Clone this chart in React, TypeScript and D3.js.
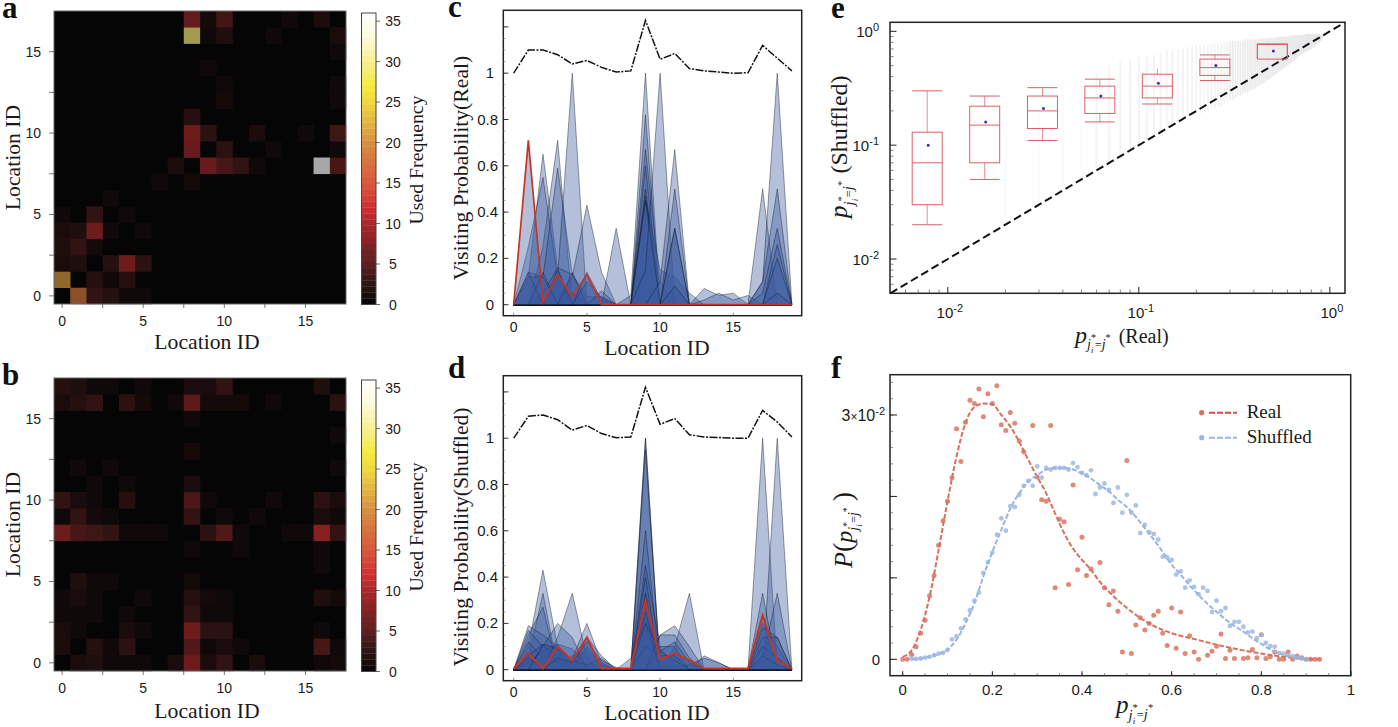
import React from "react";
import * as d3 from "d3";

const SANS = "'Liberation Sans', Arial, sans-serif";
const SERIF = "'Liberation Serif', 'Times New Roman', serif";

// panel a, rows from location 0 upward
const heatReal = [
  [0, 18, 4, 3, 1, 1, 0, 0, 0, 0, 0, 0, 0, 0, 0, 0, 0, 0],
  [21, 0, 3, 1, 3, 0, 0, 0, 0, 0, 0, 0, 0, 0, 0, 0, 0, 0],
  [2, 2.5, 0, 3, 10, 3.5, 0, 0, 0, 0, 0, 0, 0, 0, 0, 0, 0, 0],
  [2.5, 4, 1.5, 0, 0, 0, 0, 0, 0, 0, 0, 0, 0, 0, 0, 0, 0, 0],
  [2, 2.5, 10, 1, 0, 1, 0, 0, 0, 0, 0, 0, 0, 0, 0, 0, 0, 0],
  [1, 0, 4, 0, 1, 0, 0, 0, 0, 0, 0, 0, 0, 0, 0, 0, 0, 0],
  [0, 0, 0, 1, 0, 0, 0, 0, 0, 0, 0, 0, 0, 0, 0, 0, 0, 0],
  [0, 0, 0, 0, 0, 0, 1, 0, 1.5, 0, 0, 0, 0, 0, 0, 0, 0, 0],
  [0, 0, 0, 0, 0, 0, 0, 2, 0, 9.5, 6, 4, 1, 0, 0, 0, 36, 6],
  [0, 0, 0, 0, 0, 0, 0, 0, 9.5, 0, 3.5, 0, 0, 1, 0, 0, 0, 1],
  [0, 0, 0, 0, 0, 0, 0, 0, 10, 3.5, 0, 0, 2, 0, 0, 1, 0, 5],
  [0, 0, 0, 0, 0, 0, 0, 0, 3, 0, 0, 0, 0, 0, 0, 0, 0, 0],
  [0, 0, 0, 0, 0, 0, 0, 0, 0, 0, 1.5, 0, 0, 0, 0, 0, 0, 1],
  [0, 0, 0, 0, 0, 0, 0, 0, 0, 0, 1, 0, 0, 0, 0, 0, 0, 1],
  [0, 0, 0, 0, 0, 0, 0, 0, 0, 1, 0, 0, 0, 0, 0, 0, 0, 0],
  [0, 0, 0, 0, 0, 0, 0, 0, 0, 0, 0, 0, 0, 0, 0, 0, 0, 1],
  [0, 0, 0, 0, 0, 0, 0, 0, 29, 1, 2.5, 0, 0, 1, 0, 0, 0, 2],
  [0, 0, 0, 0, 0, 0, 0, 0, 9, 1.5, 5.5, 0, 0, 0, 1, 0, 2, 0],
];

// panel b
const heatShuffled = [
  [0, 2, 2.5, 1, 1, 1, 0, 2, 10, 2, 4, 0, 2, 0, 0, 0, 1, 1.5],
  [2, 0, 3, 1, 3.5, 0, 0, 0, 7, 1, 2, 1, 0, 0, 0, 0, 6, 1],
  [2, 1, 0, 0, 2, 1, 0, 0, 10, 3.5, 3.5, 0, 0, 0, 0, 0, 1, 0],
  [1, 1, 1, 0, 1, 0, 0, 0, 4, 1, 1, 0, 0, 0, 0, 0, 0, 0],
  [1, 2, 1, 0, 0, 1, 0, 0, 3, 1.5, 1, 0, 0, 0, 0, 0, 2.5, 1.5],
  [0, 2.5, 1, 1, 0, 0, 0, 0, 1.5, 0, 0, 0, 0, 0, 0, 0, 0, 0],
  [0, 0, 0, 0, 0, 0, 0, 0, 0, 0, 0, 0, 0, 0, 0, 0, 1, 0],
  [0, 0, 0, 0, 0, 0, 0, 0, 1, 0, 0, 1, 0, 0, 0, 0, 1, 0],
  [10, 6, 5, 4, 1, 1, 1, 0, 0, 3.5, 7, 1, 0, 0, 1, 1, 12, 4],
  [1, 4, 1.5, 1, 0, 0, 0, 0, 4, 0, 1, 0, 1, 0, 0, 0, 2, 1],
  [4, 2, 1, 0, 3, 0, 0, 0, 6.5, 1, 0, 0, 0, 1, 0, 0, 3.5, 2],
  [0, 0, 1, 0, 1, 0, 0, 0, 2, 0, 0, 0, 0, 0, 0, 0, 0, 0],
  [0, 1, 0, 1, 0, 0, 0, 0, 0, 0, 0, 0, 0, 0, 0, 0, 0, 1],
  [0, 0, 0, 0, 0, 0, 0, 0, 1.5, 0, 0, 0, 0, 0, 0, 0, 0, 0],
  [0, 0, 0, 0, 0, 0, 0, 0, 0, 0, 0, 0, 0, 0, 0, 0, 0, 1],
  [0, 0, 0, 0, 0, 0, 0, 0, 1, 0, 0, 0, 0, 0, 0, 0, 0, 0],
  [2, 3, 4, 0, 3.5, 1.5, 0, 1, 8, 1.5, 1.5, 1.5, 0, 1, 0, 0, 0, 3.5],
  [3, 2.5, 1, 1, 0, 1, 0, 0, 2, 2, 4, 0, 0, 0, 0, 0, 2.5, 0],
];

const colorStops = [0, 2.5, 5, 10, 12, 15, 20, 25, 27, 30, 33, 36];
const colorValues = ["#070606", "#2e1414", "#5c2020", "#a8282a", "#d03030", "#d8583c", "#d69040", "#efd840", "#f5ea40", "#f6ee90", "#fdfbd8", "#ffffff"];

// panel c, one row per location distribution, x = 0..19
const visitReal = [
  [0, .12, .65, .16, 0, 0, 0, 0, 0, 0, 0, 0, 0, 0, 0, 0, 0, 0, 0, 0],
  [0, 0, .25, .71, 0, 0, 0, 0, 0, 0, 0, 0, 0, 0, 0, 0, 0, 0, 0, 0],
  [0, .25, .55, .12, 0, 0, 0, 0, 0, 0, 0, 0, 0, 0, 0, 0, 0, 0, 0, 0],
  [0, .14, .12, .59, .13, 0, 0, 0, 0, 0, 0, 0, 0, 0, 0, 0, 0, 0, 0, 0],
  [0, 0, 0, .12, 1, 0, 0, 0, 0, 0, 0, 0, 0, 0, 0, 0, 0, 0, 0, 0],
  [0, 0, 0, 0, .12, .43, .14, 0, 0, 0, 0, 0, 0, 0, 0, 0, 0, 0, 0, 0],
  [0, 0, 0, 0, 0, 0, 0, .33, 0, 0, 0, 0, 0, 0, 0, 0, 0, 0, 0, 0],
  [0, 0, .05, .16, .13, .035, .035, 0, 0, 0, 0, 0, 0, 0, 0, 0, 0, 0, 0, 0],
  [0, .12, .12, 0, 0, 0, 0, 0, 0, 0, 0, 0, 0, 0, 0, 0, 0, 0, 0, 0],
  [0, .14, 0, 0, 0, 0, 0, 0, 0, 0, 0, 0, 0, 0, 0, 0, 0, 0, 0, 0],
  [0, 0, .14, 0, .05, 0, 0, 0, 0, 0, 0, 0, 0, 0, 0, 0, 0, 0, 0, 0],
  [0, 0, 0, .15, 0, 0, 0, 0, 0, 0, 0, 0, 0, 0, 0, 0, 0, 0, 0, 0],
  [0, 0, 0, 0, .14, 0, 0, 0, 0, 0, 0, 0, 0, 0, 0, 0, 0, 0, 0, 0],
  [0, 0, 0, 0, 0, .14, .02, 0, 0, 0, 0, 0, 0, 0, 0, 0, 0, 0, 0, 0],
  [0, 0, 0, 0, 0, .1, .03, 0, 0, 0, 0, 0, 0, 0, 0, 0, 0, 0, 0, 0],
  [0, 0, 0, 0, 0, 0, .06, 0, 0, 0, 0, 0, 0, 0, 0, 0, 0, 0, 0, 0],
  [0, 0, 0, 0, 0, 0, 0, 0, .04, 1, 0, 0, 0, 0, 0, 0, 0, 0, 0, 0],
  [0, 0, 0, 0, 0, 0, 0, 0, 0, .82, 0, 0, 0, 0, 0, 0, 0, 0, 0, 0],
  [0, 0, 0, 0, 0, 0, 0, 0, 0, .67, .1, 0, 0, 0, 0, 0, 0, 0, 0, 0],
  [0, 0, 0, 0, 0, 0, 0, 0, 0, .6, 0, .08, 0, 0, 0, 0, 0, 0, 0, 0],
  [0, 0, 0, 0, 0, 0, 0, 0, 0, .5, 0, 0, 0, 0, 0, 0, 0, 0, 0, 0],
  [0, 0, 0, 0, 0, 0, 0, 0, 0, .47, 0, 0, 0, 0, 0, 0, 0, 0, 0, 0],
  [0, 0, 0, 0, 0, 0, 0, 0, 0, .45, .15, .12, .05, 0, 0, 0, 0, 0, 0, 0],
  [0, 0, 0, 0, 0, 0, 0, 0, 0, .45, 0, 0, 0, 0, 0, 0, 0, 0, 0, 0],
  [0, 0, 0, 0, 0, 0, 0, 0, 0, .15, 1, 0, 0, 0, 0, 0, 0, 0, 0, 0],
  [0, 0, 0, 0, 0, 0, 0, 0, 0, 0, .1, .67, 0, 0, 0, 0, 0, 0, 0, 0],
  [0, 0, 0, 0, 0, 0, 0, 0, 0, 0, 0, .5, 0, 0, 0, 0, 0, 0, 0, 0],
  [0, 0, 0, 0, 0, 0, 0, 0, 0, 0, 0, .33, 0, 0, 0, 0, 0, 0, 0, 0],
  [0, 0, 0, 0, 0, 0, 0, 0, 0, 0, 0, .33, 0, 0, 0, 0, 0, 0, 0, 0],
  [0, 0, 0, 0, 0, 0, 0, 0, 0, 0, 0, .08, 0, 0, 0, 0, 0, 0, 0, 0],
  [0, 0, 0, 0, 0, 0, 0, 0, 0, 0, 0, 0, 0, .07, .04, .05, 0, 0, 0, 0],
  [0, 0, 0, 0, 0, 0, 0, 0, 0, 0, 0, 0, 0, .02, .05, .02, .04, 0, 0, 0],
  [0, 0, 0, 0, 0, 0, 0, 0, 0, 0, 0, 0, 0, 0, 0, 0, 0, .5, 0, 0],
  [0, 0, 0, 0, 0, 0, 0, 0, 0, 0, 0, 0, 0, 0, 0, 0, 0, .1, 1, 0],
  [0, 0, 0, 0, 0, 0, 0, 0, 0, 0, 0, 0, 0, 0, 0, 0, 0, .1, .5, 0],
  [0, 0, 0, 0, 0, 0, 0, 0, 0, 0, 0, 0, 0, 0, 0, 0, 0, .05, .33, 0],
  [0, 0, 0, 0, 0, 0, 0, 0, 0, 0, 0, 0, 0, 0, 0, 0, 0, 0, .26, 0],
  [0, 0, 0, 0, 0, 0, 0, 0, 0, 0, 0, 0, 0, 0, 0, 0, 0, 0, .2, 0],
  [0, 0, 0, 0, 0, 0, 0, 0, 0, 0, 0, 0, 0, 0, 0, 0, 0, 0, .05, 0],
];
const redReal = [0, .71, .01, .13, .035, .13, 0, 0, 0, 0, 0, 0, 0, 0, 0, 0, 0, 0, 0, 0];
const topReal = [1, 1.1, 1.1, 1.08, 1.04, 1.055, 1.025, 1.005, 1.01, 1.228, 1.06, 1.085, 1.02, 1.01, 1.005, 1, 1.002, 1.12, 1.065, 1.01];

// panel d
const visitShuffled = [
  [0, 0, 0, 0, 0, 0, 0, 0, 0, 1, 0, 0, 0, 0, 0, 0, 0, 0, 0, 0],
  [0, 0, 0, 0, 0, 0, 0, 0, 0, 1, 0, 0, 0, 0, 0, 0, 0, 0, 0, 0],
  [0, 0, 0, 0, 0, 0, 0, 0, 0, .95, 0, 0, 0, 0, 0, 0, 0, 0, 0, 0],
  [0, 0, 0, 0, 0, 0, 0, 0, 0, .6, 0, 0, 0, 0, 0, 0, 0, 0, 0, 0],
  [0, 0, 0, 0, 0, 0, 0, 0, 0, .45, .1, 0, 0, 0, 0, 0, 0, 0, 0, 0],
  [0, 0, 0, 0, 0, 0, 0, 0, 0, .4, 0, 0, 0, 0, 0, 0, 0, 0, 0, 0],
  [0, 0, 0, 0, 0, 0, 0, 0, 0, .33, 0, 0, 0, 0, 0, 0, 0, 0, 0, 0],
  [0, 0, 0, 0, 0, 0, 0, 0, 0, .3, 0, 0, 0, 0, 0, 0, 0, 0, 0, 0],
  [0, 0, 0, 0, 0, 0, 0, 0, 0, .25, 0, 0, 0, 0, 0, 0, 0, 0, 0, 0],
  [0, 0, 0, 0, 0, 0, 0, 0, 0, 0, 0, 0, 0, 0, 0, 0, 0, 1, 0, 0],
  [0, 0, 0, 0, 0, 0, 0, 0, 0, 0, 0, 0, 0, 0, 0, 0, 0, 0, 1, 0],
  [0, 0, 0, 0, 0, 0, 0, 0, 0, 0, 0, 0, 0, 0, 0, 0, 0, .33, 0, 0],
  [0, 0, 0, 0, 0, 0, 0, 0, 0, 0, 0, 0, 0, 0, 0, 0, 0, .05, .33, 0],
  [0, 0, 0, 0, 0, 0, 0, 0, 0, 0, 0, 0, 0, 0, 0, 0, 0, .2, .1, 0],
  [0, 0, 0, 0, 0, 0, 0, 0, 0, 0, 0, 0, 0, 0, 0, 0, 0, .18, .14, 0],
  [0, 0, 0, 0, 0, 0, 0, 0, 0, 0, 0, 0, 0, 0, 0, 0, 0, .14, .14, 0],
  [0, 0, 0, 0, 0, 0, 0, 0, 0, 0, 0, 0, 0, 0, 0, 0, 0, .1, .05, 0],
  [0, 0, 0, 0, 0, 0, 0, 0, 0, 0, 0, 0, 0, 0, 0, 0, 0, .06, .02, 0],
  [0, .1, .43, .1, 0, 0, 0, 0, 0, 0, 0, 0, 0, 0, 0, 0, 0, 0, 0, 0],
  [0, .05, .33, 0, 0, 0, 0, 0, 0, 0, 0, 0, 0, 0, 0, 0, 0, 0, 0, 0],
  [0, .15, .27, 0, 0, 0, 0, 0, 0, 0, 0, 0, 0, 0, 0, 0, 0, 0, 0, 0],
  [0, .19, .15, .1, 0, 0, 0, 0, 0, 0, 0, 0, 0, 0, 0, 0, 0, 0, 0, 0],
  [0, .17, .1, .08, .03, 0, 0, 0, 0, 0, 0, 0, 0, 0, 0, 0, 0, 0, 0, 0],
  [0, .12, .05, .11, .02, 0, 0, 0, 0, 0, 0, 0, 0, 0, 0, 0, 0, 0, 0, 0],
  [0, .06, .11, .03, .06, .08, .03, 0, 0, 0, 0, 0, 0, 0, 0, 0, 0, 0, 0, 0],
  [0, .03, .08, .11, .09, .02, 0, 0, 0, 0, 0, 0, 0, 0, 0, 0, 0, 0, 0, 0],
  [0, 0, 0, .14, .33, .05, 0, 0, 0, 0, 0, 0, 0, 0, 0, 0, 0, 0, 0, 0],
  [0, 0, 0, 0, .05, .2, .03, 0, 0, 0, 0, 0, 0, 0, 0, 0, 0, 0, 0, 0],
  [0, 0, 0, 0, 0, .14, .06, 0, 0, 0, 0, 0, 0, 0, 0, 0, 0, 0, 0, 0],
  [0, 0, .1, .2, .14, 0, 0, 0, 0, 0, 0, 0, 0, 0, 0, 0, 0, 0, 0, 0],
  [0, .05, 0, .05, 0, .1, .02, 0, 0, 0, 0, 0, 0, 0, 0, 0, 0, 0, 0, 0],
  [0, 0, .11, .09, .04, .02, .05, 0, 0, 0, 0, 0, 0, 0, 0, 0, 0, 0, 0, 0],
  [0, 0, 0, .05, .03, .12, .04, .01, 0, 0, 0, 0, 0, 0, 0, 0, 0, 0, 0, 0],
  [0, 0, 0, 0, 0, 0, 0, 0, 0, 0, 0, .1, .33, 0, 0, 0, 0, 0, 0, 0],
  [0, 0, 0, 0, 0, 0, 0, 0, 0, 0, .15, .19, .1, 0, 0, 0, 0, 0, 0, 0],
  [0, 0, 0, 0, 0, 0, 0, 0, 0, 0, .15, .15, .05, 0, 0, 0, 0, 0, 0, 0],
  [0, 0, 0, 0, 0, 0, 0, 0, 0, 0, .1, .1, 0, .06, .03, 0, 0, 0, 0, 0],
  [0, 0, 0, 0, 0, 0, 0, 0, 0, 0, .08, .12, .03, 0, 0, 0, 0, 0, 0, 0],
  [0, 0, 0, 0, 0, 0, 0, 0, 0, 0, 0, 0, .02, .05, .03, 0, 0, 0, 0, 0],
  [0, 0, 0, 0, 0, 0, 0, 0, .05, .2, 0, 0, 0, 0, 0, 0, 0, 0, 0, 0],
  [0, 0, 0, 0, 0, 0, 0, 0, 0, .1, .06, .06, 0, 0, 0, 0, 0, 0, 0, 0],
  [0, 0, 0, 0, 0, 0, 0, 0, 0, .2, .08, .04, 0, 0, 0, 0, 0, 0, 0, 0],
];
const redShuffled = [.005, .07, .005, .1, .04, .14, .005, .005, .005, .3, .045, .07, .04, .005, .005, .005, .005, .235, .04, .005];
const topShuffled = [1, 1.095, 1.1, 1.08, 1.035, 1.055, 1.02, 1.002, 1.005, 1.22, 1.06, 1.085, 1.015, 1.005, 1.003, 1, 1, 1.12, 1.07, 1.005];

// panel e
const boxX = [.0078, .0156, .0313, .0625, .125, .25, .5];
const boxWhiskerHigh = [.3, .27, .32, .38, .47, .62, .77];
const boxQ3 = [.13, .22, .27, .33, .42, .57, .77];
const boxMedian = [.07, .15, .2, .26, .33, .48, .75];
const boxQ1 = [.03, .07, .14, .19, .26, .41, .57];
const boxWhiskerLow = [.02, .05, .11, .16, .23, .37, .57];
const boxMean = [.1, .16, .21, .27, .35, .5, .67];

const cloudX = [
  .02, .03, .04, .05, .06, .07, .08, .09, .1, .11, .12, .13, .14, .15, .16, .17, .18, .19,
  .2, .21, .22, .23, .24, .25, .26, .27, .28, .29,
  .3, .31, .32, .33, .34, .35, .36, .37, .38, .39,
  .4, .41, .42, .43, .44, .45, .46, .47, .48, .49,
  .5, .51, .52, .53, .54, .55, .56, .57, .58, .59,
  .6, .61, .62, .63, .64, .65, .66, .67, .68, .69,
  .7, .71, .72, .73, .74, .75, .76, .77, .78, .79,
  .8, .81, .82, .83, .84, .85, .86, .87, .88, .89, .9, .91, .92,
];
const cloudHigh = [
  .12, .2, .3, .4, .42, .5, .55, .55, .6, .6, .62, .65, .68, .68, .7, .7, .72, .74,
  .75, .75, .75, .76, .77, .77, .78, .78, .8, .8,
  .82, .82, .82, .82, .83, .83, .85, .85, .85, .85,
  .85, .86, .86, .87, .87, .87, .87, .88, .88, .88,
  .88, .88, .88, .89, .89, .9, .9, .9, .9, .9,
  .9, .91, .91, .92, .92, .92, .92, .92, .93, .93,
  .93, .93, .93, .94, .94, .94, .95, .95, .95, .95,
  .95, .95, .95, .95, .95, .95, .95, .94, .94, .93, .93, .92, .92,
];
const cloudLow = [
  .02, .03, .04, .05, .06, .07, .08, .09, .1, .11, .12, .13, .14, .15, .16, .17, .18, .19,
  .19, .19, .2, .2, .21, .21, .22, .22, .23, .24,
  .25, .25, .26, .27, .27, .28, .29, .29, .3, .31,
  .31, .32, .33, .34, .34, .35, .36, .37, .38, .39,
  .4, .41, .42, .43, .44, .45, .46, .47, .48, .49,
  .5, .51, .52, .54, .55, .56, .57, .58, .6, .61,
  .62, .63, .64, .65, .66, .67, .67, .68, .69, .7,
  .7, .72, .73, .74, .75, .76, .78, .79, .8, .82, .83, .85, .88,
];

// panel f, x in steps of 0.01, y in units of 10^-2
const realX = [0, .01, .02, .03, .04, .05, .06, .07, .08, .09, .1, .11, .12, .13, .14, .15, .16, .17, .18, .19, .2, .21, .22, .23, .24, .25, .26, .27, .29, .3, .31, .32, .33, .34, .35, .36, .37, .38, .39, .4, .41, .42, .44, .45, .46, .47, .48, .49, .5, .51, .52, .53, .54, .55, .56, .57, .58, .59, .6, .61, .62, .63, .64, .65, .66, .68, .69, .7, .71, .72, .73, .74, .76, .77, .78, .79, .8, .81, .82, .83, .84, .85, .86, .87, .88, .89, .9, .91, .92, .93];
const realY = [0, 0, .06, .155, .32, .48, .78, 1.03, 1.4, 1.7, 1.94, 2.23, 2.83, 2.43, 2.91, 3.18, 3.14, 3.32, 2.98, 3.26, 3.14, 3.36, 2.88, 2.81, 3.03, 2.9, 2.68, 2.55, 2.87, 2.24, 1.96, 1.94, 2.87, .88, 1.72, 1.69, .92, 2.14, 1.1, 1.5, 1.03, 1.11, 1.19, .88, .67, .84, .59, .09, 2.44, .07, .42, .51, .36, .44, .54, .59, .32, .17, .63, .135, .58, .07, .29, .09, 0, .05, .1, .16, .31, .01, .11, .01, .01, .02, .12, .02, .3, .01, .03, .09, 0, 0, .09, 0, .04, .02, 0, 0, 0, 0];
const shuffledX = [.02, .03, .04, .05, .06, .07, .08, .09, .1, .11, .12, .13, .14, .15, .16, .17, .18, .19, .2, .21, .22, .23, .24, .25, .26, .27, .28, .29, .3, .31, .32, .33, .34, .35, .36, .37, .38, .39, .4, .41, .42, .43, .44, .45, .46, .47, .48, .49, .5, .51, .52, .53, .54, .55, .56, .57, .58, .59, .6, .61, .62, .63, .64, .65, .66, .67, .68, .69, .7, .71, .72, .73, .74, .75, .76, .77, .78, .79, .8, .81, .82, .83, .84, .85, .86, .87, .88, .89, .9];
const shuffledY = [.01, .005, .01, .02, .03, .05, .07, .08, .115, .245, .28, .38, .49, .6, .72, .82, 1.06, 1.19, 1.31, 1.53, 1.73, 1.58, 1.88, 1.87, 2.02, 2.13, 2.19, 2.13, 2.37, 2.23, 2.35, 2.33, 2.35, 2.35, 2.35, 2.33, 2.41, 2.36, 2.29, 2.26, 2.32, 2.03, 2.11, 2.16, 2.08, 1.92, 2.11, 1.8, 2.02, 1.8, 1.89, 1.55, 1.65, 1.56, 1.54, 1.47, 1.26, 1.25, 1.22, 1.04, 1.08, .88, .97, .89, .8, .88, .84, .58, .72, .59, .63, .41, .46, .46, .4, .33, .34, .26, .3, .2, .16, .155, .08, .07, .05, .04, .02, .01, 0];

const realFitX = [0, .02, .04, .06, .08, .1, .12, .14, .16, .18, .2, .22, .24, .26, .28, .3, .32, .34, .36, .38, .4, .42, .44, .46, .5, .55, .6, .65, .7, .75, .8, .85, .9, .93];
const realFitY = [.03, .11, .36, .77, 1.34, 1.94, 2.49, 2.9, 3.1, 3.14, 3.13, 3, 2.86, 2.67, 2.45, 2.24, 2.04, 1.79, 1.55, 1.36, 1.22, 1.1, .95, .83, .63, .44, .32, .25, .18, .12, .07, .03, .005, 0];
const shuffledFitX = [.02, .05, .08, .1, .12, .14, .16, .18, .2, .22, .24, .26, .28, .3, .32, .34, .36, .38, .4, .42, .44, .46, .48, .5, .52, .54, .56, .58, .6, .62, .64, .66, .68, .7, .72, .74, .76, .78, .8, .82, .84, .86, .88, .9];
const shuffledFitY = [0, .02, .065, .12, .24, .44, .69, 1.02, 1.32, 1.59, 1.85, 2.04, 2.18, 2.26, 2.33, 2.35, 2.35, 2.33, 2.28, 2.22, 2.14, 2.06, 1.96, 1.87, 1.75, 1.61, 1.47, 1.32, 1.16, 1.04, .91, .79, .68, .585, .49, .41, .34, .26, .19, .12, .07, .04, .01, 0];

const REAL_COLOR = "#d8705c";
const SHUFFLED_COLOR = "#9ab4e4";

function PanelLetter({ x, y, t }: { x: number; y: number; t: string }) {
  return <text x={x} y={y} fontFamily={SERIF} fontWeight="bold" fontSize={31} fill="#111">{t}</text>;
}

function Tick({ x, y, t, anchor = "middle", size = 14 }: any) {
  return <text x={x} y={y} fontFamily={SANS} fontSize={size} textAnchor={anchor} fill="#1a1a1a">{t}</text>;
}

function Title({ x, y, t, rotate = false, size = 21.7 }: any) {
  return (
    <text transform={`translate(${x},${y})${rotate ? " rotate(-90)" : ""}`} fontFamily={SERIF} fontSize={size} textAnchor="middle" fill="#1a1a1a">{t}</text>
  );
}

// p with the j_i^*=j^* subscript
function PSymbol({ size }: { size: number }) {
  const s = size;
  return (
    <>
      <tspan fontStyle="italic" fontSize={s}>p</tspan>
      <tspan fontStyle="italic" fontSize={s * 0.58} dy={s * 0.26}>j</tspan>
      <tspan fontSize={s * 0.42} dy={-s * 0.34}>*</tspan>
      <tspan fontStyle="italic" fontSize={s * 0.36} dx={-s * 0.2} dy={s * 0.5}>i</tspan>
      <tspan fontSize={s * 0.5} dx={s * 0.06} dy={-s * 0.18}>=</tspan>
      <tspan fontStyle="italic" fontSize={s * 0.58}>j</tspan>
      <tspan fontSize={s * 0.42} dy={-s * 0.34}>*</tspan>
      <tspan fontSize={s} dy={s * 0.08}>{" "}</tspan>
    </>
  );
}

function Heatmap({ rows, top, label }: { rows: number[][]; top: number; label: string }) {
  const left = 54;
  const size = 292;
  const height = 293;
  const x = d3.scaleBand<number>().domain(d3.range(18)).range([left, left + size]);
  const y = d3.scaleBand<number>().domain(d3.range(18)).range([top + height, top]);
  const color = d3.scaleLinear<string>().domain(colorStops).range(colorValues);
  const cx = (v: number) => left + (v + 0.5) * (size / 18);
  const cy = (v: number) => top + height - (v + 0.5) * (height / 18);
  const barTop = top + 2;
  const barBottom = top + 293.5;
  const barScale = d3.scaleLinear().domain([0, 36]).range([barBottom, barTop]);
  const bands = d3.range(0, 36, 0.75);
  const minorTicks = [0, 2.5, 5, 7.5, 10, 12.5, 15];
  const labels = [0, 5, 10, 15];
  return (
    <g>
      <PanelLetter x={2} y={top + 7} t={label} />
      <rect x={left} y={top} width={size} height={height} fill="#050505" />
      {rows.map((row, r) =>
        row.map((v, c) =>
          v > 0 ? (
            <rect key={`${r}-${c}`} x={x(c)} y={y(r)} width={x.bandwidth() + 0.3} height={y.bandwidth() + 0.3} fill={color(v)} opacity={0.65} />
          ) : null
        )
      )}
      <rect x={left} y={top} width={size} height={height} fill="none" stroke="#666" strokeWidth={1} />
      {minorTicks.map((t) => (
        <g key={t} stroke="#555" strokeWidth={0.8}>
          <line x1={cx(t)} x2={cx(t)} y1={top + height} y2={top + height + 4} />
          <line x1={left} x2={left - 5} y1={cy(t)} y2={cy(t)} />
        </g>
      ))}
      {labels.map((t) => (
        <g key={t}>
          <Tick x={cx(t)} y={top + height + 22} t={t} />
          <Tick x={41} y={cy(t) + 5} t={t} anchor="end" />
        </g>
      ))}
      <Title x={207} y={label === "a" ? 349 : 718} t="Location ID" />
      <Title x={20} y={top + height / 2} t="Location ID" rotate />
      {bands.map((v) => (
        <rect key={v} x={361.5} y={barScale(v + 0.75)} width={14.5} height={barScale(v) - barScale(v + 0.75) + 0.3} fill={color(v + 0.375)} />
      ))}
      <rect x={361.5} y={barTop} width={14.5} height={barBottom - barTop} fill="none" stroke="#444" strokeWidth={1} />
      {d3.range(0, 36, 5).map((t) => (
        <g key={t}>
          <line x1={376} x2={380} y1={barScale(t)} y2={barScale(t)} stroke="#444" strokeWidth={0.8} />
          <Tick x={393} y={barScale(t) + 5} t={t} />
        </g>
      ))}
      <Title x={423} y={top + 149} t="Used Frequency" rotate size={19.8} />
    </g>
  );
}

function VisitPanel({ series, red, dashed, top, bottom, label, title, xTitleY, xTickY, yTitleY, redWidth }: any) {
  const x = d3.scaleLinear().domain([0, 19]).range([513.7, 791.9]);
  const y = d3.scaleLinear().domain([0, 1]).range([bottom - 11, bottom - 11 - 231.5]);
  const area = d3.area<number>().x((_, i) => x(i)).y0(y(0)).y1((d) => y(d));
  const line = d3.line<number>().x((_, i) => x(i)).y((d) => y(d));
  const majors = [0, .2, .4, .6, .8, 1, 1.2];
  const minors = d3.range(0, 1.25, 0.05);
  const labels = [0, .2, .4, .6, .8, 1];
  return (
    <g>
      <PanelLetter x={448} y={label === "c" ? 17 : 378} t={label} />
      {series.map((row: number[], i: number) => (
        <path key={i} d={area(row) as string} fill="#3b5a9f" fillOpacity={0.38} stroke="#141c2c" strokeOpacity={0.62} strokeWidth={0.7} />
      ))}
      <path d={area(red) as string} fill="#3b5a9f" fillOpacity={0.38} stroke="none" />
      <path d={line(red) as string} fill="none" stroke="#c83424" strokeWidth={redWidth} />
      <path d={line(dashed) as string} fill="none" stroke="#111" strokeWidth={1.5} strokeDasharray="8 1.5 2 1.5" />
      <rect x={503.3} y={top} width={298.4} height={bottom - top} fill="none" stroke="#222" strokeWidth={1.5} />
      {minors.map((t) => (
        <line key={t} x1={503.3} x2={505.5} y1={y(t)} y2={y(t)} stroke="#777" strokeWidth={0.6} />
      ))}
      {majors.map((t) => (
        <line key={t} x1={503.3} x2={508.5} y1={y(t)} y2={y(t)} stroke="#222" strokeWidth={0.9} />
      ))}
      {[0, 5, 10, 15].map((t) => (
        <g key={t}>
          <line x1={x(t)} x2={x(t)} y1={bottom} y2={bottom - 3} stroke="#666" strokeWidth={0.7} />
          <Tick x={x(t)} y={xTickY} t={t} />
        </g>
      ))}
      {labels.map((t) => (
        <Tick key={t} x={t === 0 || t === 1 ? 494 : 498} y={y(t) + 5} t={t === 0 || t === 1 ? String(t) : t.toFixed(1)} anchor="end" size={15} />
      ))}
      <Title x={657} y={xTitleY} t="Location ID" />
      <Title x={468} y={yTitleY} t={title} rotate />
    </g>
  );
}

function BoxPanel() {
  const x = d3.scaleLog().domain([0.005, 1.2]).range([890.3, 1345]);
  const y = d3.scaleLog().domain([0.005, 1.2]).range([293.3, 22.3]);
  const line = d3.line<number>().x((d) => x(d)).y((d) => y(d));
  const half = 15;
  const stroke = "#da6068";
  const minors = [2, 3, 4, 5, 6, 7, 8, 9];
  const decades = [0.001, 0.01, 0.1];
  const minorValues = decades.flatMap((d) => minors.map((m) => d * m)).filter((v) => v > 0.005 && v < 1.2);
  const exponents = [-2, -1, 0];
  return (
    <g>
      <PanelLetter x={831} y={18} t="e" />
      {cloudX.map((v, i) => (
        <rect key={v} x={x(v) - 0.9} width={1.8} y={y(cloudHigh[i])} height={y(cloudLow[i]) - y(cloudHigh[i])} fill="#dedee2" opacity={v < 0.06 ? 0.15 : v < 0.3 ? 0.36 : 0.55} />
      ))}
      <path d={line([0.005, 1.2]) as string} fill="none" stroke="#111" strokeWidth={2} strokeDasharray="8 4" />
      {boxX.map((v, i) => (
        <g key={v} fill="none" stroke={stroke} strokeWidth={1}>
          <line x1={x(v)} x2={x(v)} y1={y(boxWhiskerHigh[i])} y2={y(boxQ3[i])} strokeOpacity={0.7} />
          <line x1={x(v)} x2={x(v)} y1={y(boxQ1[i])} y2={y(boxWhiskerLow[i])} strokeOpacity={0.7} />
          {i !== 4 && <line x1={x(v) - half} x2={x(v) + half} y1={y(boxWhiskerHigh[i])} y2={y(boxWhiskerHigh[i])} />}
          <line x1={x(v) - half} x2={x(v) + half} y1={y(boxWhiskerLow[i])} y2={y(boxWhiskerLow[i])} />
          {i !== 6 ? (
            <rect x={x(v) - half} width={half * 2} y={y(boxQ3[i])} height={y(boxQ1[i]) - y(boxQ3[i])} />
          ) : (
            <path d={`M${x(v) - half},${y(boxQ1[i])}V${y(boxQ3[i])}H${x(v) + half}V${y(boxQ1[i])}`} strokeWidth={1.3} />
          )}
          {i !== 6 && <line x1={x(v) - half} x2={x(v) + half} y1={y(boxMedian[i])} y2={y(boxMedian[i])} />}
          <circle cx={x(v) + 1} cy={y(boxMean[i])} r={1.5} fill="#3535a5" stroke="none" />
        </g>
      ))}
      <rect x={890} y={22.3} width={455} height={271} fill="none" stroke="#222" strokeWidth={1.5} />
      {minorValues.map((v) => (
        <g key={v} stroke="#555" strokeWidth={0.7}>
          <line x1={x(v)} x2={x(v)} y1={293.3} y2={289.5} />
          <line x1={890} x2={893.5} y1={y(v)} y2={y(v)} />
        </g>
      ))}
      {exponents.map((e) => {
        const v = Math.pow(10, e);
        return (
          <g key={e}>
            <line x1={x(v)} x2={x(v)} y1={293.3} y2={287} stroke="#222" />
            <line x1={890} x2={896.5} y1={y(v)} y2={y(v)} stroke="#222" />
            <text x={x(v) + 2} y={318} fontFamily={SANS} fontSize={15} textAnchor="middle" fill="#1a1a1a">
              10<tspan fontSize={11} dy={-6}>{e}</tspan>
            </text>
            <text x={879} y={y(v) + 6} fontFamily={SANS} fontSize={15} textAnchor="end" fill="#1a1a1a">
              10<tspan fontSize={11} dy={-6}>{e}</tspan>
            </text>
          </g>
        );
      })}
      <text x={1075} y={343} fontFamily={SERIF} fontSize={20} fill="#1a1a1a">
        <PSymbol size={24} />
        <tspan fontSize={20} dx={2}>(Real)</tspan>
      </text>
      <text transform="translate(847,218) rotate(-90)" fontFamily={SERIF} fontSize={24} fill="#1a1a1a">
        <PSymbol size={25} />
        <tspan fontSize={24} dx={1}>(Shuffled)</tspan>
      </text>
    </g>
  );
}

function DensityPanel() {
  const x = d3.scaleLinear().domain([0, 1]).range([902.7, 1351]);
  const y = d3.scaleLinear().domain([0, 3]).range([659.3, 415]);
  const fit = (xs: number[], ys: number[]) =>
    d3.line<number>().x((d) => x(d)).y((_, i) => y(ys[i])).curve(d3.curveMonotoneX)(xs) as string;
  const left = 890;
  const bottom = 675.7;
  return (
    <g>
      <PanelLetter x={831} y={378} t="f" />
      <rect x={890} y={374.7} width={460.7} height={301} fill="none" stroke="#222" strokeWidth={1.5} />
      {realX.map((v, i) => (
        <circle key={v} cx={x(v)} cy={y(realY[i])} r={2.5} fill={REAL_COLOR} opacity={0.82} />
      ))}
      <path d={fit(realFitX, realFitY)} fill="none" stroke={REAL_COLOR} strokeWidth={2} strokeDasharray="5 2" />
      {shuffledX.map((v, i) => (
        <circle key={v} cx={x(v)} cy={y(shuffledY[i])} r={2.4} fill={SHUFFLED_COLOR} opacity={0.82} />
      ))}
      <path d={fit(shuffledFitX, shuffledFitY)} fill="none" stroke={SHUFFLED_COLOR} strokeWidth={2} strokeDasharray="5 2" />
      {d3.range(0, 3.5, 0.2).map((t) => (
        <line key={t} x1={left} x2={left + 3} y1={y(t)} y2={y(t)} stroke="#555" strokeWidth={0.7} />
      ))}
      {[0, 1, 2, 3].map((t) => (
        <line key={t} x1={left} x2={left + 7} y1={y(t)} y2={y(t)} stroke="#222" strokeWidth={1} />
      ))}
      {d3.range(0, 1.01, 0.05).map((t) => (
        <line key={t} x1={x(t)} x2={x(t)} y1={bottom} y2={bottom - 2.5} stroke="#555" strokeWidth={0.7} />
      ))}
      {d3.range(0, 1.01, 0.2).map((t) => (
        <g key={t}>
          <line x1={x(t)} x2={x(t)} y1={bottom} y2={bottom - 4.5} stroke="#222" strokeWidth={1} />
          <Tick x={x(t)} y={695} t={t === 0 || t > 0.99 ? Math.round(t) : t.toFixed(1)} size={15} />
        </g>
      ))}
      <Tick x={880} y={665} t="0" anchor="end" size={15} />
      <text x={885} y={421} fontFamily={SANS} fontSize={16} textAnchor="end" fill="#1a1a1a">
        3<tspan fontSize={12}>×</tspan>10<tspan fontSize={11} dy={-6}>-2</tspan>
      </text>
      <text x={1116} y={713} fontFamily={SERIF} fill="#1a1a1a">
        <PSymbol size={25} />
      </text>
      <text transform="translate(852,568) rotate(-90)" fontFamily={SERIF} fontSize={26} fill="#1a1a1a">
        <tspan fontStyle="italic">P</tspan>
        <tspan fontSize={28}>(</tspan>
        <PSymbol size={24} />
        <tspan fontSize={28}>)</tspan>
      </text>
      <circle cx={1201.7} cy={412.7} r={2.6} fill={REAL_COLOR} />
      <line x1={1209} x2={1237} y1={412.7} y2={412.7} stroke="#df4a3c" strokeWidth={2} strokeDasharray="6 2" />
      <text x={1246.7} y={418} fontFamily={SERIF} fontSize={19} fill="#1a1a1a">Real</text>
      <circle cx={1201.7} cy={437.7} r={2.6} fill={SHUFFLED_COLOR} />
      <line x1={1209} x2={1237} y1={437.7} y2={437.7} stroke={SHUFFLED_COLOR} strokeWidth={2} strokeDasharray="6 2" />
      <text x={1246.7} y={443} fontFamily={SERIF} fontSize={19} fill="#1a1a1a">Shuffled</text>
    </g>
  );
}

export default function App() {
  return (
    <svg width={1398} height={727} style={{ position: "absolute", left: 0, top: 0, background: "#fff" }}>
      <Heatmap rows={heatReal} top={11} label="a" />
      <Heatmap rows={heatShuffled} top={378} label="b" />
      <VisitPanel series={visitReal} red={redReal} dashed={topReal} top={10.3} bottom={315.7} label="c" title="Visiting Probability(Real)" xTitleY={355} xTickY={332} yTitleY={168} redWidth={1.7} />
      <VisitPanel series={visitShuffled} red={redShuffled} dashed={topShuffled} top={375.7} bottom={680.7} label="d" title="Visiting Probability(Shuffled)" xTitleY={720} xTickY={697} yTitleY={537} redWidth={2} />
      <BoxPanel />
      <DensityPanel />
    </svg>
  );
}
